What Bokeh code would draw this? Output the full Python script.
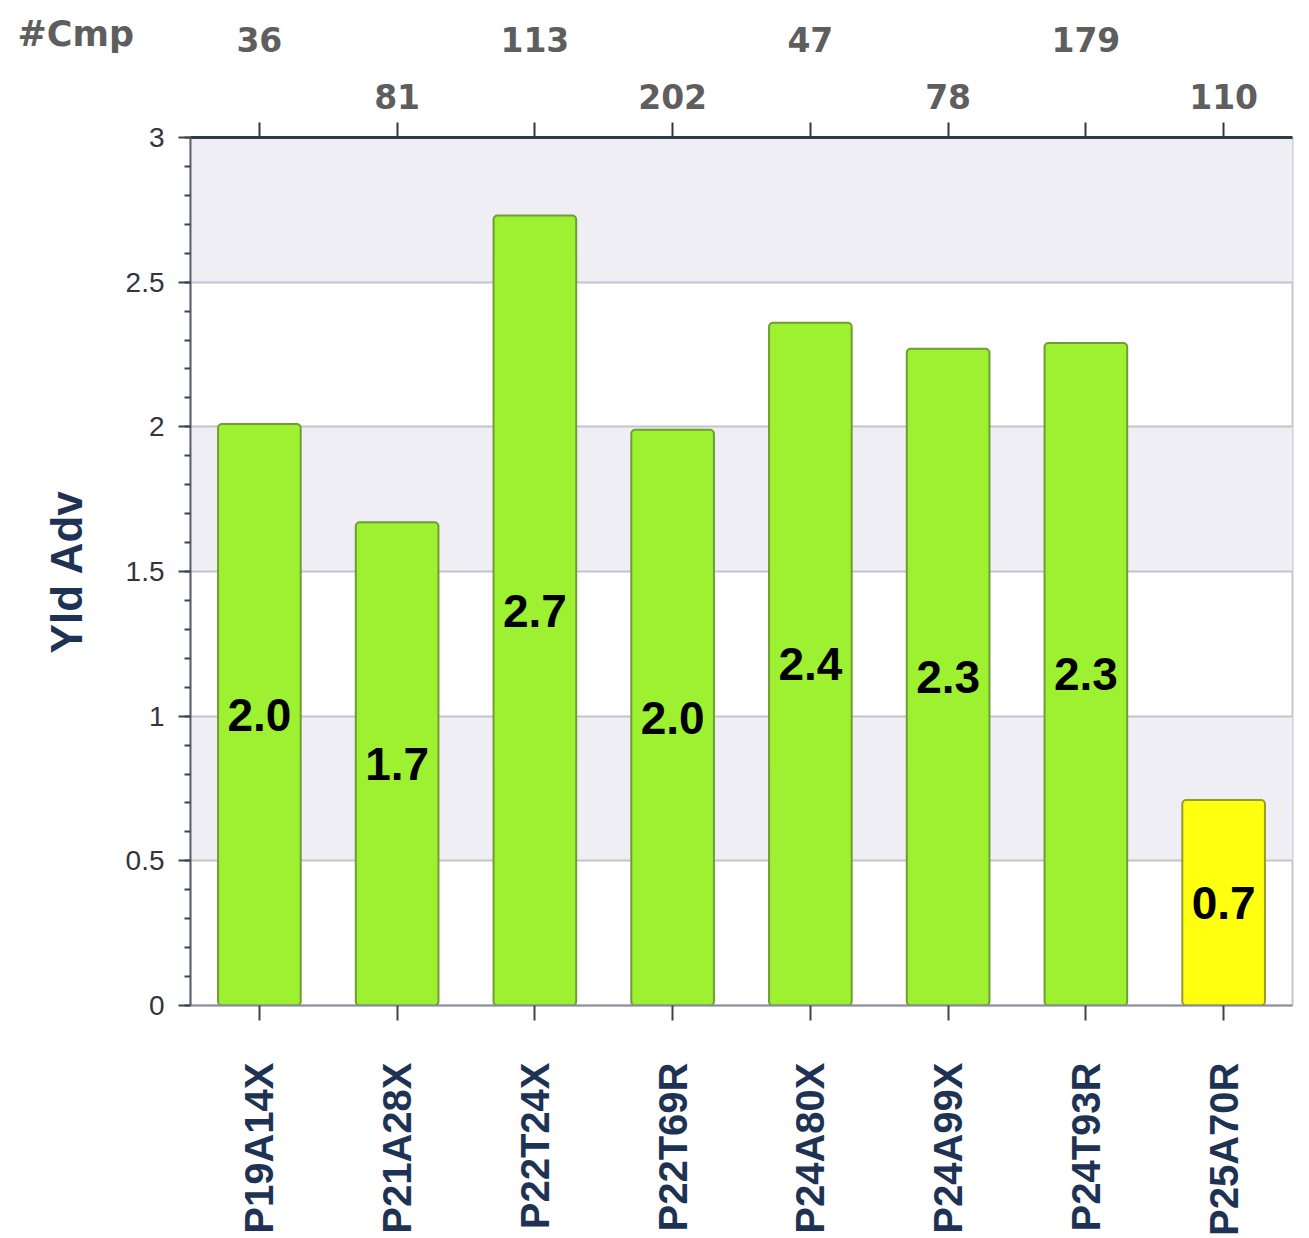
from bokeh.plotting import figure
from bokeh.models import Range1d, LinearAxis, FixedTicker, SingleIntervalTicker
from bokeh.core.properties import value
from bokeh.embed import file_html
from bokeh.resources import INLINE
import math

# ---- data ----
categories = ["P19A14X", "P21A28X", "P22T24X", "P22T69R", "P24A80X", "P24A99X", "P24T93R", "P25A70R"]
yld_adv = [2.01, 1.67, 2.73, 1.99, 2.36, 2.27, 2.29, 0.71]
cmp_counts = [36, 81, 113, 202, 47, 78, 179, 110]
bar_colors = ["#9df131", "#9df131", "#9df131", "#9df131", "#9df131", "#9df131", "#9df131", "#ffff10"]
bar_borders = ["#6f9d33", "#6f9d33", "#6f9d33", "#6f9d33", "#6f9d33", "#6f9d33", "#6f9d33", "#9a9a2a"]
value_labels = [f"{v:.1f}" for v in yld_adv]

NAVY = "#1e3354"
n = len(categories)
pos = [i + 0.5 for i in range(n)]

p = figure(x_range=Range1d(0, n), y_range=Range1d(0, 3), width=1301, height=1238,
           output_backend="svg", toolbar_location=None,
           min_border_left=190, min_border_right=9, min_border_top=137, min_border_bottom=231)
p.background_fill_color = "white"
p.outline_line_color = "#c8c8ce"
p.outline_line_width = 2

# title used as the "#Cmp" row caption
p.title.text = "#Cmp"
p.title.align = "left"
p.title.offset = -173
p.title.standoff = -60
p.title.text_font = "DejaVu Sans"
p.title.text_font_style = "bold"
p.title.text_font_size = "35px"
p.title.text_color = "#5e5e5e"

# grid / bands
p.xgrid.grid_line_color = None
p.ygrid.ticker = SingleIntervalTicker(interval=0.5)
p.ygrid.grid_line_color = "#c4c4cc"
p.ygrid.grid_line_width = 2
p.ygrid.band_fill_color = "#eeeef4"
p.ygrid.band_fill_alpha = 1.0

# bars
src = dict(x=pos, top=yld_adv, color=bar_colors, border=bar_borders,
           mid=[v / 2 for v in yld_adv], lab=value_labels)
p.vbar(x="x", top="top", width=0.6, source=src, fill_color="color",
       line_color="border", line_width=2, border_radius=4)
p.text(x="x", y="mid", text="lab", source=src, text_align="center", text_baseline="middle",
       text_font=value("Liberation Sans"), text_font_style="bold", text_font_size="46px",
       text_color="black")

# left axis
ya = p.yaxis[0]
ya.ticker = SingleIntervalTicker(interval=0.5, num_minor_ticks=5)
ya.axis_label = "Yld Adv"
ya.axis_label_text_font = "Liberation Sans"
ya.axis_label_text_font_style = "bold"
ya.axis_label_text_font_size = "44px"
ya.axis_label_text_color = NAVY
ya.axis_label_standoff = 32
ya.major_label_text_font = "Liberation Sans"
ya.major_label_text_font_size = "28px"
ya.major_label_text_color = "#34343e"
ya.major_label_standoff = 14
ya.major_tick_out = 12
ya.major_tick_in = 0
ya.minor_tick_out = 6
ya.minor_tick_in = 0
ya.axis_line_color = "#5c6470"
ya.axis_line_width = 2
ya.major_tick_line_color = "#3c4450"
ya.major_tick_line_width = 2
ya.minor_tick_line_color = "#3c4450"
ya.minor_tick_line_width = 2

# bottom axis (category names)
xa = p.xaxis[0]
xa.ticker = FixedTicker(ticks=pos)
xa.major_label_overrides = {pos[i]: categories[i] for i in range(n)}
xa.major_label_orientation = math.pi / 2
xa.major_label_text_font = "Liberation Sans"
xa.major_label_text_font_style = "bold"
xa.major_label_text_font_size = "40px"
xa.major_label_text_color = NAVY
xa.major_label_standoff = 42
xa.major_tick_out = 15
xa.major_tick_in = 0
xa.minor_tick_line_color = None
xa.axis_line_color = "#8a9098"
xa.axis_line_width = 2
xa.major_tick_line_color = "#3c4450"
xa.major_tick_line_width = 2

# top axes (staggered counts)
inner_over = {pos[i]: (str(cmp_counts[i]) if i % 2 == 1 else "") for i in range(n)}
outer_over = {pos[i]: str(cmp_counts[i]) for i in range(n) if i % 2 == 0}

inner = LinearAxis(ticker=FixedTicker(ticks=pos), major_label_overrides=inner_over)
outer = LinearAxis(ticker=FixedTicker(ticks=[pos[i] for i in range(n) if i % 2 == 0]),
                   major_label_overrides=outer_over)
for ax in (inner, outer):
    ax.major_label_text_font = "DejaVu Sans"
    ax.major_label_text_font_style = "bold"
    ax.major_label_text_font_size = "33px"
    ax.major_label_text_color = "#5e5e5e"
    ax.minor_tick_line_color = None
inner.major_tick_out = 15
inner.major_tick_in = 0
inner.major_label_standoff = 14
inner.axis_line_color = "#2c3a4c"
inner.axis_line_width = 3
inner.major_tick_line_color = "#2c3a4c"
inner.major_tick_line_width = 2
outer.major_tick_out = 0
outer.major_tick_in = 0
outer.major_tick_line_color = None
outer.axis_line_color = None
outer.major_label_standoff = 29
p.add_layout(inner, "above")
p.add_layout(outer, "above")

open("out.html", "w").write(file_html(p, INLINE))
